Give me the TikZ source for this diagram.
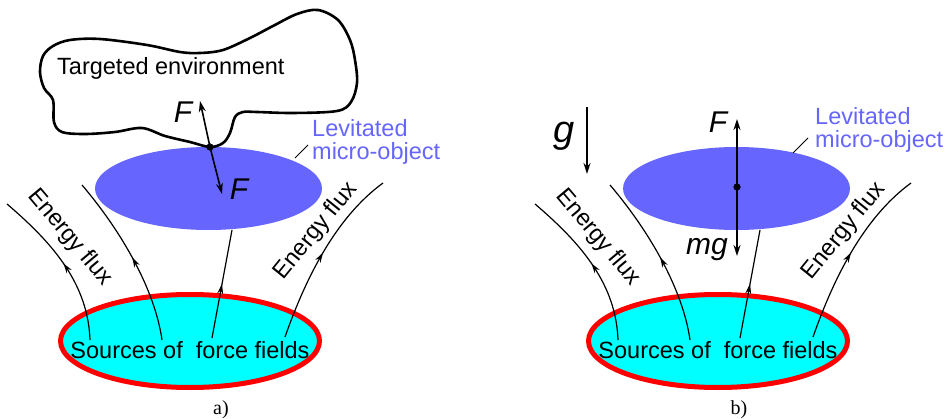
\documentclass[tikz,border=0pt]{standalone}
\usepackage{fontspec}
\setmainfont{Liberation Sans}
\newfontfamily\capfont{Liberation Serif}
\usetikzlibrary{shapes.geometric,arrows.meta,decorations.markings}

\definecolor{objblue}{RGB}{102,102,255}
\definecolor{srcfill}{RGB}{0,255,255}
\definecolor{srcedge}{RGB}{255,0,0}

\tikzset{
  lbl/.style={font=\fontsize{23.5}{28}\selectfont, inner sep=0pt},
  levtxt/.style={lbl, text=objblue, anchor=base west},
  forcelbl/.style={font=\fontsize{30}{34}\selectfont\itshape, inner sep=0pt, anchor=base},
  fluxline/.style={line width=1.2pt, postaction={decorate},
    decoration={markings, mark=at position #1 with {\arrow{Stealth[length=10pt,width=6pt]}}}},
  fluxline/.default=0.5,
  vec/.style={line width=1.6pt, -{Stealth[length=11pt,width=7pt]}},
  leader/.style={line width=1pt},
  objell/.style={ellipse, fill=objblue, minimum width=227pt, minimum height=83pt, inner sep=0pt},
  srcell/.style={ellipse, draw=srcedge, fill=srcfill, line width=5pt,
    minimum width=259pt, minimum height=93pt, inner sep=0pt},
  dotnode/.style={circle, fill=black, minimum size=7pt, inner sep=0pt},
  caption/.style={font=\capfont\fontsize{20}{24}\selectfont, inner sep=0pt, anchor=base},
}

% source ellipse, micro-object and the four energy-flux lines (#1 = name prefix)
\newcommand\fluxpart[1]{%
  \node[srcell] (#1src) at (190,341) {};
  \node[objell] (#1obj) at (208.5,188.5) {};
  \coordinate (#1s1) at (90,340);  \coordinate (#1e1) at (7,204);
  \coordinate (#1s2) at (162,340); \coordinate (#1e2) at (82,185);
  \coordinate (#1s3) at (212,338); \coordinate (#1e3) at (232,230);
  \coordinate (#1s4) at (285,337); \coordinate (#1e4) at (383,183);
  \draw[fluxline] (#1s1) .. controls (88,285) and (55,245) .. (#1e1);
  \draw[fluxline] (#1s2) .. controls (155,290) and (122,232) .. (#1e2);
  \draw[fluxline] (#1s3) -- (#1e3);
  \draw[fluxline] (#1s4) .. controls (305,280) and (335,218) .. (#1e4);
  \node[lbl, anchor=base] (#1srctxt) at (190,358) {Sources of\ \ force fields};
  \node[lbl, rotate=-50] (#1fluxl) at (70,238) {Energy flux};
  \node[lbl, rotate=51] (#1fluxr) at (316,231) {Energy flux};
}

\begin{document}
\begin{tikzpicture}[x=1pt, y=-1pt]
\useasboundingbox (0,0) rectangle (949,419);

% ---------- panel a) ----------
\fluxpart{a}
% targeted environment outline
\draw[line width=2.6pt, line join=round]
  plot[smooth cycle, tension=0.55] coordinates {
    (40,72) (43,56) (53,46) (70,40) (100,39) (147,45) (180,52) (200,53)
    (223,50) (250,38) (273,26) (297,14) (318,10) (338,20) (350,40) (355,60)
    (357,83) (351,102) (337,111) (293,113) (257,112) (243,112) (235,117)
    (230,133) (223,143) (210,147) (190,142) (165,136) (142,128) (115,132)
    (85,134) (62,132) (54,122) (53,100) (44,88)};
\node[lbl, anchor=base west] (env) at (57,75) {Targeted environment};
\node[dotnode] (adot) at (210,147) {};
\coordinate (aFup) at (200,101);
\coordinate (aFdn) at (222,194);
\draw[vec] (adot.center) -- (aFup);
\draw[vec] (adot.center) -- (aFdn);
\node[dotnode] at (adot) {};
\node[forcelbl] (aFupl) at (183,123) {F};
\node[forcelbl] (aFdnl) at (239,200) {F};
\node[levtxt] (alev1) at (312,137) {Levitated};
\node[levtxt] (alev2) at (312,160) {micro-object};
\coordinate (aleadA) at (295,158);
\coordinate (aleadB) at (308,145);
\draw[leader] (aleadA) -- (aleadB);
\node[caption] (capa) at (221,414) {a)};

% ---------- panel b) ----------
\begin{scope}[xshift=528pt]
  \fluxpart{b}
\end{scope}
\node[dotnode] (bdot) at (737,187) {};
\coordinate (bFup) at (737,119);
\coordinate (bFdn) at (737,256);
\draw[vec] (bdot.center) -- (bFup);
\draw[vec] (bdot.center) -- (bFdn);
\node[dotnode] at (bdot) {};
\node[forcelbl] (bFl) at (718,133) {F};
\node[forcelbl] (bmg) at (707,255) {mg};
\node[font=\fontsize{38}{42}\selectfont\itshape, inner sep=0pt, anchor=base] (gl) at (564,143) {g};
\coordinate (gtop) at (587,107);
\coordinate (gbot) at (587,174);
\draw[vec, line width=1.3pt] (gtop) -- (gbot);
\node[levtxt] (blev1) at (815,125) {Levitated};
\node[levtxt] (blev2) at (815,148) {micro-object};
\coordinate (bleadA) at (793,153);
\coordinate (bleadB) at (808,138);
\draw[leader] (bleadA) -- (bleadB);
\node[caption] (capb) at (739,414) {b)};
\end{tikzpicture}
\end{document}
